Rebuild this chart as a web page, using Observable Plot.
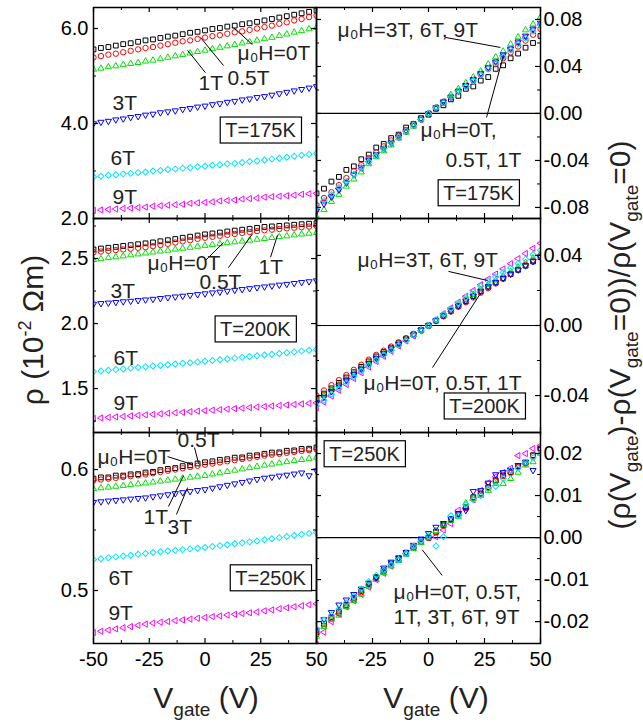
<!DOCTYPE html>
<html><head><meta charset="utf-8">
<script src="https://cdn.jsdelivr.net/npm/d3@7"></script>
<script src="https://cdn.jsdelivr.net/npm/@observablehq/plot@0.6"></script>
<style>
body{margin:0;background:#fff;}
#chart{position:relative;width:643px;height:725px;overflow:hidden;background:#fff;}
#chart svg{position:absolute;left:0;top:0;overflow:visible;}
</style></head><body><div id="chart"></div>
<script>
// gate voltage (V)
const V = [-50,-46.67,-43.33,-40,-36.67,-33.33,-30,-26.67,-23.33,-20,-16.67,-13.33,-10,-6.67,-3.33,0,3.33,6.67,10,13.33,16.67,20,23.33,26.67,30,33.33,36.67,40,43.33,46.67,50];
const fields = ["0T","0.5T","1T","3T","6T","9T"];

// ---- rho (10^-2 Ohm m), T = 175 K
const r175_0T  = [5.56,5.59,5.61,5.64,5.67,5.69,5.72,5.75,5.77,5.80,5.83,5.85,5.88,5.91,5.93,5.96,5.99,6.01,6.04,6.06,6.09,6.11,6.14,6.17,6.20,6.23,6.26,6.29,6.32,6.35,6.38];
const r175_05T = [5.39,5.42,5.45,5.47,5.50,5.53,5.56,5.59,5.61,5.64,5.67,5.70,5.73,5.75,5.78,5.81,5.84,5.86,5.89,5.92,5.94,5.97,6.00,6.03,6.06,6.10,6.13,6.17,6.20,6.24,6.27];
const r175_1T  = [5.14,5.16,5.19,5.21,5.24,5.26,5.28,5.31,5.33,5.36,5.39,5.42,5.45,5.48,5.51,5.54,5.57,5.60,5.63,5.66,5.69,5.72,5.75,5.78,5.81,5.85,5.88,5.92,5.95,5.99,6.02];
const r175_3T  = [4.00,4.03,4.05,4.08,4.10,4.13,4.15,4.18,4.20,4.23,4.25,4.27,4.30,4.32,4.35,4.37,4.40,4.42,4.45,4.47,4.50,4.52,4.55,4.57,4.60,4.63,4.66,4.69,4.72,4.75,4.78];
const r175_6T  = [2.88,2.89,2.91,2.92,2.94,2.95,2.97,2.98,3.00,3.01,3.03,3.04,3.06,3.07,3.09,3.10,3.12,3.13,3.15,3.16,3.18,3.20,3.21,3.23,3.25,3.27,3.29,3.31,3.33,3.35,3.37];
const r175_9T  = [2.17,2.18,2.19,2.20,2.21,2.22,2.23,2.24,2.26,2.27,2.28,2.29,2.30,2.32,2.33,2.34,2.35,2.37,2.38,2.39,2.41,2.42,2.43,2.45,2.46,2.47,2.48,2.49,2.51,2.52,2.53];
// ---- T = 200 K
const r200_0T  = [2.570,2.577,2.583,2.590,2.597,2.603,2.610,2.617,2.624,2.633,2.641,2.650,2.660,2.668,2.677,2.686,2.693,2.700,2.708,2.715,2.722,2.729,2.736,2.743,2.747,2.751,2.755,2.760,2.764,2.768,2.772];
const r200_05T = [2.548,2.554,2.559,2.565,2.570,2.576,2.582,2.587,2.595,2.604,2.613,2.623,2.632,2.641,2.651,2.660,2.667,2.675,2.682,2.689,2.697,2.704,2.711,2.717,2.722,2.727,2.732,2.737,2.741,2.746,2.751];
const r200_1T  = [2.490,2.497,2.505,2.512,2.519,2.527,2.534,2.541,2.549,2.556,2.563,2.571,2.578,2.585,2.593,2.600,2.607,2.613,2.620,2.627,2.633,2.640,2.647,2.653,2.660,2.667,2.673,2.680,2.687,2.693,2.700];
const r200_3T  = [2.150,2.155,2.159,2.164,2.169,2.173,2.178,2.183,2.188,2.194,2.200,2.206,2.212,2.218,2.224,2.230,2.237,2.243,2.250,2.257,2.263,2.270,2.277,2.283,2.290,2.297,2.303,2.310,2.317,2.323,2.330];
const r200_6T  = [1.630,1.635,1.641,1.646,1.651,1.657,1.662,1.667,1.673,1.678,1.683,1.689,1.694,1.699,1.705,1.710,1.716,1.722,1.728,1.734,1.740,1.746,1.752,1.758,1.764,1.770,1.776,1.782,1.788,1.794,1.800];
const r200_9T  = [1.270,1.274,1.278,1.282,1.286,1.290,1.294,1.298,1.302,1.306,1.310,1.314,1.318,1.322,1.326,1.330,1.334,1.338,1.342,1.346,1.350,1.354,1.358,1.362,1.366,1.370,1.374,1.378,1.382,1.386,1.390];
// ---- T = 250 K
const r250_0T  = [0.5925,0.5935,0.5935,0.5950,0.5950,0.5960,0.5962,0.5975,0.5980,0.5995,0.6005,0.6012,0.6028,0.6035,0.6050,0.6060,0.6068,0.6080,0.6085,0.6098,0.6100,0.6115,0.6118,0.6130,0.6140,0.6142,0.6155,0.6158,0.6170,0.6172,0.6182];
const r250_05T = [0.5910,0.5917,0.5924,0.5931,0.5938,0.5945,0.5952,0.5959,0.5969,0.5979,0.5990,0.6000,0.6010,0.6021,0.6031,0.6040,0.6049,0.6059,0.6068,0.6077,0.6087,0.6096,0.6105,0.6115,0.6123,0.6130,0.6138,0.6145,0.6153,0.6160,0.6167];
const r250_1T  = [0.5840,0.5847,0.5853,0.5860,0.5867,0.5873,0.5880,0.5887,0.5895,0.5903,0.5911,0.5919,0.5927,0.5935,0.5943,0.5950,0.5961,0.5971,0.5982,0.5993,0.6003,0.6014,0.6025,0.6035,0.6044,0.6053,0.6063,0.6072,0.6081,0.6091,0.6100];
const r250_3T  = [0.5730,0.5735,0.5741,0.5746,0.5751,0.5757,0.5762,0.5767,0.5776,0.5784,0.5793,0.5802,0.5810,0.5819,0.5828,0.5835,0.5847,0.5859,0.5871,0.5883,0.5895,0.5907,0.5919,0.5930,0.5938,0.5947,0.5955,0.5964,0.5973,0.5950,0.5990];
const r250_6T  = [0.5256,0.5263,0.5270,0.5278,0.5285,0.5292,0.5299,0.5306,0.5314,0.5320,0.5326,0.5332,0.5338,0.5344,0.5350,0.5355,0.5363,0.5371,0.5378,0.5386,0.5394,0.5402,0.5409,0.5419,0.5428,0.5437,0.5446,0.5455,0.5464,0.5472,0.5480];
const r250_9T  = [0.4653,0.4663,0.4673,0.4683,0.4692,0.4702,0.4712,0.4722,0.4731,0.4738,0.4744,0.4751,0.4757,0.4764,0.4771,0.4777,0.4784,0.4790,0.4797,0.4803,0.4810,0.4816,0.4823,0.4832,0.4840,0.4849,0.4857,0.4866,0.4874,0.4883,0.4890];

// ---- relative change (rho(V)-rho(0))/rho(0), T = 175 K
const d175_0T  = [-0.068,-0.064,-0.058,-0.054,-0.048,-0.045,-0.039,-0.035,-0.029,-0.026,-0.021,-0.018,-0.012,-0.009,-0.004,-0.001,0.004,0.007,0.012,0.015,0.021,0.023,0.028,0.031,0.038,0.041,0.047,0.051,0.056,0.060,0.066];
const d175_05T = [-0.078,-0.072,-0.067,-0.061,-0.055,-0.049,-0.044,-0.038,-0.033,-0.028,-0.023,-0.019,-0.014,-0.009,-0.005,0.000,0.005,0.009,0.014,0.019,0.023,0.028,0.033,0.038,0.042,0.047,0.052,0.057,0.062,0.067,0.072];
const d175_1T  = [-0.088,-0.082,-0.075,-0.069,-0.062,-0.056,-0.050,-0.043,-0.037,-0.032,-0.027,-0.021,-0.016,-0.011,-0.005,0.000,0.005,0.010,0.016,0.021,0.026,0.031,0.036,0.042,0.048,0.053,0.059,0.065,0.071,0.076,0.082];
const d175_3T  = [-0.083,-0.077,-0.071,-0.065,-0.059,-0.052,-0.046,-0.040,-0.035,-0.030,-0.025,-0.020,-0.015,-0.010,-0.005,0.000,0.005,0.010,0.014,0.019,0.024,0.029,0.034,0.039,0.044,0.050,0.055,0.061,0.066,0.072,0.077];
const d175_6T  = [-0.080,-0.074,-0.069,-0.063,-0.058,-0.052,-0.046,-0.041,-0.036,-0.030,-0.025,-0.020,-0.015,-0.010,-0.005,0.000,0.005,0.009,0.014,0.019,0.023,0.028,0.033,0.038,0.043,0.048,0.054,0.059,0.064,0.070,0.075];
const d175_9T  = [-0.081,-0.075,-0.070,-0.064,-0.058,-0.052,-0.047,-0.041,-0.036,-0.030,-0.025,-0.020,-0.015,-0.010,-0.005,0.000,0.005,0.010,0.014,0.019,0.024,0.029,0.034,0.039,0.044,0.049,0.055,0.060,0.065,0.071,0.076];
// ---- T = 200 K
const d200_0T  = [-0.0420,-0.0389,-0.0359,-0.0328,-0.0297,-0.0267,-0.0236,-0.0205,-0.0177,-0.0152,-0.0127,-0.0101,-0.0076,-0.0051,-0.0025,0.0000,0.0028,0.0056,0.0084,0.0112,0.0140,0.0168,0.0196,0.0222,0.0246,0.0270,0.0294,0.0318,0.0342,0.0366,0.0390];
const d200_05T = [-0.0400,-0.0371,-0.0341,-0.0312,-0.0283,-0.0253,-0.0224,-0.0195,-0.0168,-0.0144,-0.0120,-0.0096,-0.0072,-0.0048,-0.0024,0.0000,0.0027,0.0053,0.0080,0.0107,0.0133,0.0160,0.0187,0.0213,0.0240,0.0267,0.0293,0.0320,0.0347,0.0373,0.0400];
const d200_1T  = [-0.0430,-0.0399,-0.0369,-0.0338,-0.0307,-0.0277,-0.0246,-0.0215,-0.0187,-0.0160,-0.0133,-0.0107,-0.0080,-0.0053,-0.0027,0.0000,0.0029,0.0059,0.0088,0.0117,0.0147,0.0176,0.0205,0.0233,0.0258,0.0283,0.0309,0.0334,0.0359,0.0385,0.0410];
const d200_3T  = [-0.0440,-0.0408,-0.0376,-0.0344,-0.0312,-0.0280,-0.0248,-0.0216,-0.0187,-0.0160,-0.0133,-0.0107,-0.0080,-0.0053,-0.0027,0.0000,0.0028,0.0056,0.0084,0.0112,0.0140,0.0168,0.0196,0.0222,0.0246,0.0270,0.0294,0.0318,0.0342,0.0366,0.0390];
const d200_6T  = [-0.0460,-0.0427,-0.0393,-0.0360,-0.0327,-0.0293,-0.0260,-0.0227,-0.0196,-0.0168,-0.0140,-0.0112,-0.0084,-0.0056,-0.0028,0.0000,0.0032,0.0064,0.0096,0.0128,0.0160,0.0192,0.0224,0.0253,0.0278,0.0303,0.0329,0.0354,0.0379,0.0405,0.0430];
const d200_9T  = [-0.0470,-0.0437,-0.0403,-0.0370,-0.0337,-0.0303,-0.0270,-0.0237,-0.0205,-0.0176,-0.0147,-0.0117,-0.0088,-0.0059,-0.0029,0.0000,0.0033,0.0067,0.0100,0.0133,0.0167,0.0200,0.0233,0.0265,0.0294,0.0323,0.0353,0.0382,0.0411,0.0441,0.0470];
// ---- T = 250 K
const d250_0T  = [-0.0225,-0.0205,-0.0190,-0.0176,-0.0160,-0.0143,-0.0127,-0.0110,-0.0094,-0.0078,-0.0062,-0.0050,-0.0036,-0.0022,-0.0010,0.0000,0.0014,0.0030,0.0044,0.0056,0.0072,0.0096,0.0105,0.0120,0.0136,0.0148,0.0156,0.0170,0.0178,0.0196,0.0212];
const d250_05T = [-0.0230,-0.0210,-0.0193,-0.0180,-0.0163,-0.0147,-0.0130,-0.0112,-0.0096,-0.0080,-0.0064,-0.0052,-0.0037,-0.0023,-0.0010,0.0000,0.0012,0.0028,0.0042,0.0054,0.0070,0.0094,0.0104,0.0118,0.0134,0.0146,0.0154,0.0168,0.0176,0.0194,0.0210];
const d250_1T  = [-0.0235,-0.0212,-0.0195,-0.0185,-0.0165,-0.0150,-0.0135,-0.0116,-0.0100,-0.0084,-0.0068,-0.0055,-0.0040,-0.0026,-0.0012,0.0000,0.0016,0.0030,0.0040,0.0050,0.0082,0.0093,0.0100,0.0112,0.0128,0.0128,0.0140,0.0155,0.0172,0.0180,0.0200];
const d250_3T  = [-0.0220,-0.0195,-0.0178,-0.0160,-0.0148,-0.0135,-0.0122,-0.0108,-0.0095,-0.0072,-0.0058,-0.0048,-0.0035,-0.0018,-0.0003,0.0010,0.0025,0.0034,0.0045,0.0058,0.0065,0.0110,0.0112,0.0130,0.0150,0.0155,0.0160,0.0172,0.0180,0.0160,0.0210];
const d250_6T  = [-0.0217,-0.0196,-0.0185,-0.0170,-0.0155,-0.0140,-0.0122,-0.0105,-0.0090,-0.0078,-0.0064,-0.0052,-0.0038,-0.0020,-0.0008,0.0005,-0.0020,0.0002,0.0052,0.0052,0.0078,0.0090,0.0100,0.0116,0.0122,0.0140,0.0160,0.0165,0.0180,0.0190,0.0200];
const d250_9T  = [-0.0255,-0.0225,-0.0200,-0.0182,-0.0165,-0.0150,-0.0135,-0.0118,-0.0100,-0.0085,-0.0068,-0.0050,-0.0038,-0.0025,-0.0010,0.0000,0.0002,0.0018,0.0033,0.0065,0.0070,0.0090,0.0112,0.0130,0.0145,0.0155,0.0165,0.0195,0.0200,0.0212,0.0219];

// ---- tick values
const xMajor = [-50,-25,0,25,50];
const xMinor = [-37.5,-12.5,12.5,37.5];
const xLabelsLeft = [-50,-25,0,25,50];
const xLabelsRight = [-25,0,25,50];

// ---- annotations (data coordinates)
const notes175L = [{x:14.6,y:5.47,t:"μ₀H=0T"},{x:10.1,y:4.95,t:"0.5T"},{x:-2.9,y:4.84,t:"1T"},{x:-41.5,y:4.42,t:"3T"},{x:-42.4,y:3.26,t:"6T"},{x:-41.5,y:2.44,t:"9T"}];
const links175L = [{x1:21.3,y1:5.66,x2:12.8,y2:6.02},{x1:8.3,y1:5.22,x2:-2.0,y2:5.81},{x1:0.2,y1:5.07,x2:-7.8,y2:5.54}];
const box175L = [{x:24.9,y:3.85,t:"T=175K"}];
const notes200L = [{x:-25.8,y:2.46,t:"μ₀H=0T"},{x:-2.5,y:2.315,t:"0.5T"},{x:24.0,y:2.43,t:"1T"},{x:-42.4,y:2.25,t:"3T"},{x:-41,y:1.73,t:"6T"},{x:-41,y:1.385,t:"9T"}];
const links200L = [{x1:0.2,y1:2.485,x2:8.3,y2:2.623},{x1:10.5,y1:2.43,x2:21.3,y2:2.69},{x1:29.4,y1:2.51,x2:32.5,y2:2.68}];
const box200L = [{x:22.6,y:1.954,t:"T=200K"}];
const notes250L = [{x:-48.2,y:0.6099,t:"μ₀H=0T"},{x:-12.3,y:0.624,t:"0.5T"},{x:-27.6,y:0.5603,t:"1T"},{x:-16.8,y:0.552,t:"3T"},{x:-43.3,y:0.51,t:"6T"},{x:-43.3,y:0.481,t:"9T"}];
const links250L = [{x1:-16.8,y1:0.6107,x2:-5.6,y2:0.6041},{x1:-4.7,y1:0.6182,x2:-2.9,y2:0.605},{x1:-16.4,y1:0.5694,x2:-9.6,y2:0.595},{x1:-12.8,y1:0.5628,x2:-7.8,y2:0.5851}];
const box250L = [{x:29.4,y:0.51,t:"T=250K"}];
const notes175R = [{x:-40.6,y:0.0706,t:"μ₀H=3T, 6T, 9T"},{x:-3.6,y:-0.0145,t:"μ₀H=0T,"},{x:7.6,y:-0.040,t:"0.5T, 1T"}];
const links175R = [{x1:7.6,y1:0.0647,x2:32.1,y2:0.0562},{x1:25.9,y1:-0.0034,x2:33.5,y2:0.0494}];
const box175R = [{x:22.3,y:-0.068,t:"T=175K"}];
const notes200R = [{x:-31.7,y:0.0371,t:"μ₀H=3T, 6T, 9T"},{x:-29,y:-0.0331,t:"μ₀H=0T, 0.5T, 1T"}];
const links200R = [{x1:8.9,y1:0.0309,x2:26.3,y2:0.0257},{x1:1.8,y1:-0.024,x2:23.2,y2:0.0183}];
const box200R = [{x:25,y:-0.0463,t:"T=200K"}];
const notes250R = [{x:-15.6,y:-0.0131,t:"μ₀H=0T, 0.5T,"},{x:-15.6,y:-0.0190,t:"1T, 3T, 6T, 9T"}];
const links250R = [{x1:-2.8,y1:-0.0029,x2:6.1,y2:-0.0090}];
const box250R = [{x:-28.6,y:0.0198,t:"T=250K"}];

// ---- marker styles per field
const colors = ["#000000","#ff0000","#00e000","#0000ff","#00e5ff","#ff00ff"];
const symbols = ["square","circle","triangle","triangle","square","triangle"];
const rotations = [0,0,0,180,45,-90];
const radii = [2.7,2.7,2.3,2.3,2.4,2.3];

const FF = '"Liberation Sans", Arial, Helvetica, sans-serif';
const W = 643, H = 725;

function panel(o) {
  const ph = H - o.mt - o.mb, pw = W - o.ml - o.mr;
  const rows = o.series.flatMap((arr, i) => V.map((v, j) => ({v, y: arr[j], s: fields[i]})));
  const marks = [];
  if (o.zero) marks.push(Plot.ruleY([0], {stroke: "black", strokeWidth: 1.2}));
  for (const i of o.order) {
    marks.push(Plot.dot(rows.filter(d => d.s === fields[i]), {
      x: "v", y: "y", symbol: symbols[i], rotate: rotations[i], r: radii[i],
      stroke: colors[i], strokeWidth: 1, fill: "none", clip: true
    }));
  }
  marks.push(
    Plot.ruleX(xMajor, {insetTop: ph - 5, strokeWidth: 1.2}),
    Plot.ruleX(xMajor, {insetBottom: ph - 5, strokeWidth: 1.2}),
    Plot.ruleX(xMinor, {insetTop: ph - 3}),
    Plot.ruleX(xMinor, {insetBottom: ph - 3}),
    Plot.ruleY(o.major, {insetRight: pw - 5, strokeWidth: 1.2}),
    Plot.ruleY(o.major, {insetLeft: pw - 5, strokeWidth: 1.2}),
    Plot.ruleY(o.minor, {insetRight: pw - 3}),
    Plot.ruleY(o.minor, {insetLeft: pw - 3})
  );
  marks.push(Plot.axisY(o.major, {anchor: o.side, tickSize: 0, tickPadding: o.side === "left" ? 5 : 3,
    tickFormat: o.fmt, fontSize: 20, label: null}));
  if (o.xlab) marks.push(Plot.axisX(o.xlab, {anchor: "bottom", tickSize: 0, tickPadding: 8,
    tickFormat: d => String(d), fontSize: 20, label: null}));
  marks.push(Plot.link(o.links, {x1: "x1", y1: "y1", x2: "x2", y2: "y2", stroke: "black", strokeWidth: 1}));
  marks.push(Plot.text(o.notes, {x: "x", y: "y", text: "t", textAnchor: "start", lineAnchor: "middle", fontSize: 21, fill: "#222"}));
  marks.push(Plot.text(o.boxes, {x: "x", y: "y", text: "t", lineAnchor: "middle", fontSize: 20, fill: "#222", className: "boxed"}));
  marks.push(Plot.frame({stroke: "black", strokeWidth: 1.5}));
  return Plot.plot({
    width: W, height: H,
    marginTop: o.mt, marginBottom: o.mb, marginLeft: o.ml, marginRight: o.mr,
    x: Object.assign({domain: [-50, 50]}, o.xlab ? {} : {axis: null}),
    y: {domain: o.y},
    style: {fontFamily: FF, fontSize: "20px", background: "transparent", overflow: "visible"},
    marks
  });
}

const f1 = d => d.toFixed(1), f2 = d => d.toFixed(2);
const panels = [
  {series:[r175_0T,r175_05T,r175_1T,r175_3T,r175_6T,r175_9T], order:[0,1,2,3,4,5], y:[2.0,6.442], mt:7, mb:507, ml:93, mr:327, side:"left", major:[2,4,6], minor:[3,5], fmt:f1, xlab:null, notes:notes175L, links:links175L, boxes:box175L, zero:false},
  {series:[r200_0T,r200_05T,r200_1T,r200_3T,r200_6T,r200_9T], order:[0,1,2,3,4,5], y:[1.162,2.808], mt:218, mb:293, ml:93, mr:327, side:"left", major:[1.5,2.0,2.5], minor:[1.25,1.75,2.25,2.75], fmt:f1, xlab:null, notes:notes200L, links:links200L, boxes:box200L, zero:false},
  {series:[r250_0T,r250_05T,r250_1T,r250_3T,r250_6T,r250_9T], order:[0,1,2,3,4,5], y:[0.4562,0.6306], mt:432, mb:82, ml:93, mr:327, side:"left", major:[0.5,0.6], minor:[0.55], fmt:f1, xlab:xLabelsLeft, notes:notes250L, links:links250L, boxes:box250L, zero:false},
  {series:[d175_0T,d175_05T,d175_1T,d175_3T,d175_6T,d175_9T], order:[5,0,1,2,3,4], y:[-0.0894,0.0902], mt:7, mb:507, ml:316, mr:103, side:"right", major:[-0.08,-0.04,0,0.04,0.08], minor:[-0.06,-0.02,0.02,0.06], fmt:f2, xlab:null, notes:notes175R, links:links175R, boxes:box175R, zero:true},
  {series:[d200_0T,d200_05T,d200_1T,d200_3T,d200_6T,d200_9T], order:[5,0,1,2,3,4], y:[-0.0611,0.0611], mt:218, mb:293, ml:316, mr:103, side:"right", major:[-0.04,0,0.04], minor:[-0.02,0.02], fmt:f2, xlab:null, notes:notes200R, links:links200R, boxes:box200R, zero:true},
  {series:[d250_0T,d250_05T,d250_1T,d250_3T,d250_6T,d250_9T], order:[5,0,1,2,3,4], y:[-0.0252,0.025], mt:432, mb:82, ml:316, mr:103, side:"right", major:[-0.02,-0.01,0,0.01,0.02], minor:[-0.015,-0.005,0.005,0.015], fmt:f2, xlab:xLabelsRight, notes:notes250R, links:links250R, boxes:box250R, zero:true}
];

const chart = document.getElementById("chart");
const svgs = panels.map(p => chart.appendChild(panel(p)));

const NS = "http://www.w3.org/2000/svg";
chart.querySelectorAll("g.boxed text").forEach(t => {
  const b = t.getBBox();
  const r = document.createElementNS(NS, "rect");
  r.setAttribute("x", b.x - 5); r.setAttribute("y", b.y - 2);
  r.setAttribute("width", b.width + 10); r.setAttribute("height", b.height + 4);
  r.setAttribute("fill", "white"); r.setAttribute("stroke", "black"); r.setAttribute("stroke-width", 1.2);
  if (t.getAttribute("transform")) r.setAttribute("transform", t.getAttribute("transform"));
  t.parentNode.insertBefore(r, t);
});

const overlay = d3.select(svgs[svgs.length - 1]);
function title(x, y, rot, parts) {
  const t = overlay.append("text")
    .attr("transform", `translate(${x},${y})` + (rot ? ` rotate(${rot})` : ""))
    .attr("text-anchor", "middle").attr("font-family", FF).attr("font-size", 30).attr("fill", "#222");
  for (const [s, kind] of parts) {
    const sp = t.append("tspan").text(s);
    if (kind === "sub") sp.attr("font-size", 19).attr("dy", 8);
    else if (kind === "sup") sp.attr("font-size", 18).attr("dy", -12);
    else if (kind === "afterSub") sp.attr("dy", -8);
    else if (kind === "afterSup") sp.attr("dy", 12);
  }
}
title(43, 330, -90, [["ρ (10"], ["-2", "sup"], [" Ωm)", "afterSup"]]);
title(630, 335, -90, [["(ρ(V"], ["gate", "sub"], [")-ρ(V", "afterSub"], ["gate", "sub"], ["=0))/ρ(V", "afterSub"], ["gate", "sub"], ["=0)", "afterSub"]]);
title(206, 708, 0, [["V"], ["gate", "sub"], [" (V)", "afterSub"]]);
title(436, 708, 0, [["V"], ["gate", "sub"], [" (V)", "afterSub"]]);
</script>
</body></html>
